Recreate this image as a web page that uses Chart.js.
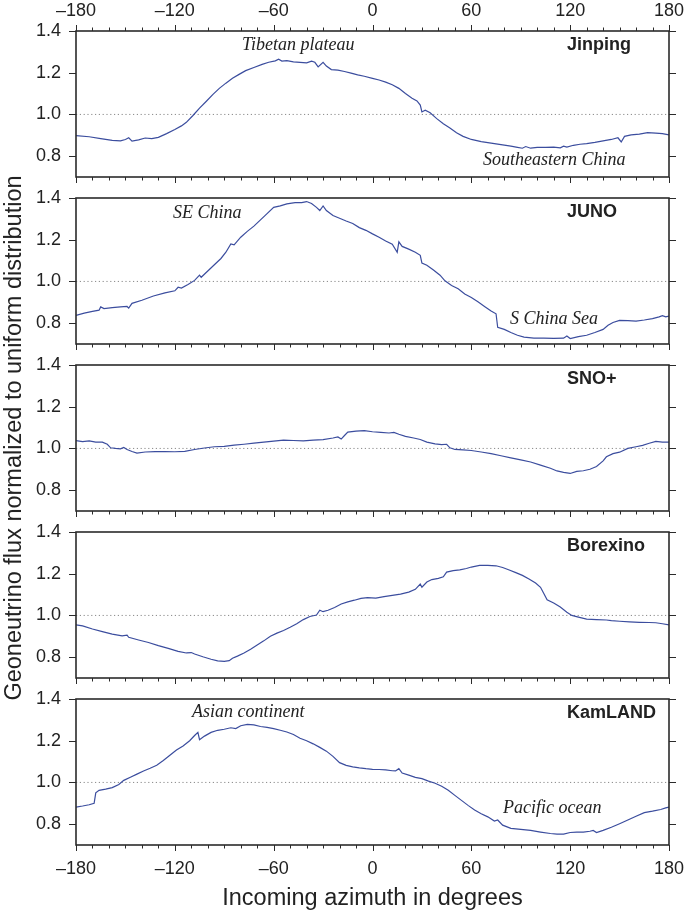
<!DOCTYPE html>
<html>
<head>
<meta charset="utf-8">
<script src="https://cdn.jsdelivr.net/npm/chart.js@4.4.1/dist/chart.umd.min.js"></script>
<style>
  body { margin: 0; background: #fff; }
  #wrap { position: relative; width: 685px; height: 912px; overflow: hidden; font-family: "Liberation Sans", Arial, sans-serif; color: #222; }
  canvas { position: absolute; left: 0; top: 0; pointer-events: none; }
  .site { position: absolute; font-weight: bold; font-size: 18px; line-height: 18px; white-space: nowrap; }
  .note { position: absolute; font-family: "Liberation Serif", "Times New Roman", serif; font-style: italic; font-size: 18px; line-height: 18px; white-space: nowrap; }
  #xtitle { position: absolute; left: 76px; width: 593px; top: 884px; text-align: center; font-size: 23.5px; line-height: 26px; }
  #ytitle { position: absolute; left: -287px; top: 425px; width: 600px; text-align: center; font-size: 23.5px; line-height: 26px; transform: rotate(-90deg); }
</style>
</head>
<body>
<div id="wrap">
  <canvas id="c0" width="685" height="912"></canvas>
  <canvas id="c1" width="685" height="912"></canvas>
  <canvas id="c2" width="685" height="912"></canvas>
  <canvas id="c3" width="685" height="912"></canvas>
  <canvas id="c4" width="685" height="912"></canvas>

  <div class="site" style="left:567px; top:35px;">Jinping</div>
  <div class="site" style="left:567px; top:202px;">JUNO</div>
  <div class="site" style="left:567px; top:369px;">SNO+</div>
  <div class="site" style="left:567px; top:536px;">Borexino</div>
  <div class="site" style="left:567px; top:703px;">KamLAND</div>

  <div class="note" style="left:242px; top:35px;">Tibetan plateau</div>
  <div class="note" style="left:483px; top:150px;">Southeastern China</div>
  <div class="note" style="left:173px; top:203px;">SE China</div>
  <div class="note" style="left:510px; top:309px;">S China Sea</div>
  <div class="note" style="left:192px; top:702px;">Asian continent</div>
  <div class="note" style="left:503px; top:798px;">Pacific ocean</div>

  <div id="ytitle">Geoneutrino flux normalized to uniform distribution</div>
  <div id="xtitle">Incoming azimuth in degrees</div>
</div>

<script>
// tick values
const azTicks = [-180, -120, -60, 0, 60, 120, 180];
const fluxTicks = [0.8, 1.0, 1.2, 1.4];

// Jinping
const jinpingAz = [-180, -172, -165, -158, -153, -150, -148, -146, -142, -138, -134, -130, -125, -120, -116, -113, -109, -105, -101, -97, -93, -89, -85, -81, -77, -72, -67, -63, -59, -57, -55, -52, -48, -44, -40, -37, -35, -33, -30, -28, -25, -21, -17, -13, -9, -5, 0, 4, 8, 12, 16, 20, 24, 27, 29, 30, 32, 35, 39, 43, 47, 51, 55, 60, 66, 72, 78, 84, 88, 91, 93, 96, 100, 105, 110, 114, 116, 118, 122, 126, 130, 135, 140, 145, 149, 151, 153, 157, 162, 167, 172, 176, 180];
const jinpingFlux = [0.898, 0.893, 0.884, 0.876, 0.873, 0.880, 0.888, 0.872, 0.878, 0.887, 0.884, 0.890, 0.908, 0.928, 0.945, 0.962, 0.995, 1.030, 1.062, 1.095, 1.125, 1.150, 1.173, 1.192, 1.210, 1.225, 1.240, 1.250, 1.257, 1.265, 1.256, 1.258, 1.252, 1.250, 1.247, 1.255, 1.250, 1.228, 1.250, 1.232, 1.215, 1.212, 1.206, 1.198, 1.190, 1.183, 1.173, 1.165, 1.155, 1.142, 1.125, 1.100, 1.078, 1.065, 1.045, 1.012, 1.020, 1.008, 0.980, 0.955, 0.935, 0.912, 0.895, 0.880, 0.870, 0.862, 0.855, 0.848, 0.842, 0.838, 0.846, 0.838, 0.842, 0.842, 0.843, 0.840, 0.848, 0.843, 0.852, 0.857, 0.860, 0.866, 0.873, 0.880, 0.888, 0.868, 0.895, 0.902, 0.906, 0.913, 0.910, 0.908, 0.902];

// JUNO
const junoAz = [-180, -175, -170, -166, -165, -163, -158, -153, -149, -148, -146, -140, -133, -126, -120, -118, -116, -112, -108, -105, -104, -100, -96, -92, -89, -86, -84, -80, -76, -72, -68, -64, -60, -56, -52, -47, -43, -40, -37, -34, -32, -30, -28, -24, -20, -16, -12, -8, -4, 0, 4, 8, 12, 15, 16, 18, 22, 26, 29, 30, 33, 37, 41, 44, 48, 52, 56, 60, 64, 68, 72, 75, 76, 80, 84, 88, 92, 98, 104, 110, 116, 118, 120, 125, 130, 135, 140, 143, 146, 150, 155, 160, 165, 170, 174, 176, 178, 180];
const junoFlux = [0.837, 0.848, 0.856, 0.862, 0.878, 0.870, 0.874, 0.878, 0.880, 0.872, 0.895, 0.910, 0.930, 0.945, 0.955, 0.972, 0.968, 0.985, 1.005, 1.030, 1.020, 1.050, 1.080, 1.110, 1.140, 1.180, 1.175, 1.212, 1.240, 1.265, 1.295, 1.325, 1.355, 1.362, 1.372, 1.378, 1.378, 1.383, 1.374, 1.355, 1.340, 1.362, 1.340, 1.316, 1.303, 1.290, 1.278, 1.258, 1.245, 1.228, 1.212, 1.194, 1.178, 1.140, 1.190, 1.168, 1.155, 1.140, 1.125, 1.088, 1.078, 1.055, 1.030, 1.003, 0.980, 0.965, 0.940, 0.923, 0.902, 0.880, 0.858, 0.845, 0.780, 0.770, 0.755, 0.742, 0.733, 0.728, 0.728, 0.727, 0.728, 0.738, 0.726, 0.735, 0.742, 0.755, 0.770, 0.790, 0.803, 0.813, 0.812, 0.810, 0.815, 0.822, 0.830, 0.836, 0.830, 0.834];

// SNO+
const snoAz = [-180, -176, -172, -168, -164, -161, -159, -156, -153, -151, -149, -146, -143, -138, -132, -126, -120, -114, -108, -102, -96, -90, -84, -78, -72, -66, -60, -54, -48, -42, -36, -30, -24, -21, -19, -17, -15, -10, -5, 0, 5, 10, 13, 16, 20, 25, 29, 33, 38, 42, 45, 47, 50, 55, 60, 66, 72, 78, 84, 90, 96, 102, 108, 112, 116, 120, 124, 128, 132, 136, 140, 142, 146, 150, 155, 160, 164, 168, 172, 176, 180];
const snoFlux = [1.037, 1.033, 1.036, 1.030, 1.030, 1.020, 1.003, 1.000, 0.998, 1.005, 0.995, 0.985, 0.978, 0.983, 0.985, 0.985, 0.984, 0.986, 0.995, 1.002, 1.008, 1.010, 1.016, 1.020, 1.025, 1.030, 1.035, 1.040, 1.038, 1.036, 1.040, 1.042, 1.050, 1.055, 1.045, 1.062, 1.078, 1.083, 1.085, 1.080, 1.077, 1.074, 1.077, 1.068, 1.058, 1.050, 1.043, 1.030, 1.022, 1.018, 1.020, 1.003, 0.995, 0.993, 0.990, 0.983, 0.975, 0.965, 0.955, 0.945, 0.935, 0.920, 0.905, 0.892, 0.885, 0.880, 0.890, 0.893, 0.900, 0.913, 0.940, 0.960, 0.975, 0.982, 1.000, 1.008, 1.015, 1.025, 1.034, 1.030, 1.030];

// Borexino
const borexinoAz = [-180, -176, -170, -164, -158, -152, -149, -148, -142, -136, -130, -124, -118, -113, -110, -108, -103, -98, -94, -90, -87, -85, -82, -78, -74, -70, -66, -62, -58, -54, -50, -46, -42, -38, -34, -32, -30, -27, -23, -19, -15, -11, -7, -3, 2, 7, 12, 17, 22, 26, 29, 30, 33, 36, 40, 43, 45, 49, 53, 57, 60, 65, 70, 75, 79, 83, 87, 91, 95, 99, 102, 104, 106, 110, 114, 118, 121, 125, 130, 136, 142, 145, 150, 156, 162, 168, 172, 176, 180];
const borexinoFlux = [0.955, 0.950, 0.935, 0.922, 0.910, 0.902, 0.905, 0.895, 0.882, 0.870, 0.855, 0.842, 0.828, 0.820, 0.822, 0.815, 0.802, 0.790, 0.782, 0.780, 0.783, 0.795, 0.805, 0.820, 0.838, 0.858, 0.878, 0.900, 0.915, 0.928, 0.943, 0.960, 0.980, 0.995, 1.002, 1.025, 1.018, 1.025, 1.038, 1.055, 1.065, 1.073, 1.082, 1.085, 1.083, 1.090, 1.096, 1.102, 1.112, 1.125, 1.150, 1.135, 1.160, 1.172, 1.178, 1.185, 1.208, 1.215, 1.218, 1.225, 1.232, 1.240, 1.240, 1.238, 1.230, 1.218, 1.205, 1.192, 1.175, 1.155, 1.135, 1.105, 1.075, 1.060, 1.040, 1.015, 1.000, 0.992, 0.982, 0.980, 0.978, 0.975, 0.972, 0.969, 0.967, 0.966, 0.965, 0.960, 0.955];

// KamLAND
const kamlandAz = [-180, -176, -172, -169, -168, -166, -162, -158, -154, -151, -147, -143, -139, -135, -131, -127, -123, -119, -115, -111, -108, -106, -105, -102, -98, -94, -90, -86, -83, -80, -76, -72, -68, -64, -60, -56, -52, -48, -44, -40, -36, -32, -28, -24, -20, -16, -12, -8, -4, 0, 4, 8, 12, 14, 16, 18, 22, 26, 30, 34, 38, 42, 46, 50, 54, 58, 62, 66, 70, 74, 76, 79, 84, 90, 96, 102, 108, 112, 116, 120, 124, 128, 132, 134, 136, 140, 145, 150, 155, 160, 165, 170, 175, 178, 180];
const kamlandFlux = [0.882, 0.887, 0.893, 0.900, 0.950, 0.962, 0.968, 0.975, 0.990, 1.010, 1.025, 1.040, 1.055, 1.068, 1.082, 1.105, 1.130, 1.155, 1.175, 1.200, 1.225, 1.240, 1.205, 1.222, 1.240, 1.250, 1.255, 1.262, 1.258, 1.272, 1.278, 1.276, 1.268, 1.264, 1.258, 1.250, 1.242, 1.230, 1.212, 1.200, 1.185, 1.168, 1.150, 1.125, 1.095, 1.082, 1.075, 1.070, 1.066, 1.063, 1.062, 1.060, 1.056, 1.055, 1.066, 1.045, 1.035, 1.024, 1.018, 1.006, 0.996, 0.982, 0.962, 0.938, 0.914, 0.890, 0.868, 0.850, 0.835, 0.815, 0.820, 0.795, 0.780, 0.775, 0.770, 0.762, 0.755, 0.752, 0.752, 0.760, 0.762, 0.762, 0.766, 0.770, 0.760, 0.770, 0.785, 0.802, 0.820, 0.838, 0.855, 0.862, 0.870, 0.878, 0.882];

const series = [
  [jinpingAz, jinpingFlux],
  [junoAz, junoFlux],
  [snoAz, snoFlux],
  [borexinoAz, borexinoFlux],
  [kamlandAz, kamlandFlux],
];

const panelTops = [31, 198, 365, 532, 699];
const panelH = 146;
const lineColor = "#3b4d9e";
const inkColor = "#2b2b2b";
const tickFont = { family: "'Liberation Sans', Arial, sans-serif", size: 18 };

function azLabel(v) {
  return v < 0 ? "\u2013" + Math.abs(v) : String(v);
}

// don't let edge labels push the plot area in
function noEdgePad(s) {
  s.paddingLeft = 0;
  s.paddingRight = 0;
  s.paddingTop = 0;
  s.paddingBottom = 0;
}

// frame box plus the small outward tick marks
const frameTicks = {
  id: "frameTicks",
  afterDatasetsDraw(chart, args, opts) {
    const { ctx, chartArea, scales } = chart;
    const { left, right, top, bottom } = chartArea;
    ctx.save();
    ctx.strokeStyle = inkColor;
    ctx.lineWidth = 1;
    ctx.beginPath();
    for (let a = -180; a <= 180; a += 10) {
      const px = Math.round(scales.x.getPixelForValue(a)) + 0.5;
      const len = a % 60 === 0 ? 6 : 3.5;
      ctx.moveTo(px, bottom);
      ctx.lineTo(px, bottom + len);
      if (opts.top) {
        ctx.moveTo(px, top);
        ctx.lineTo(px, top - len);
      }
    }
    for (const v of fluxTicks) {
      const py = Math.round(scales.y.getPixelForValue(v)) + 0.5;
      ctx.moveTo(left - 7, py);
      ctx.lineTo(left, py);
      ctx.moveTo(right, py);
      ctx.lineTo(right + 7, py);
    }
    ctx.stroke();
    ctx.lineWidth = 1.6;
    ctx.strokeRect(left, top, right - left, bottom - top);
    ctx.restore();
  },
};

function makePanel(i) {
  const [az, flux] = series[i];
  const top = panelTops[i];
  const bottom = top + panelH;
  const first = i === 0;
  const last = i === series.length - 1;

  const scales = {
    x: {
      type: "linear",
      min: -180,
      max: 180,
      display: last,
      position: "bottom",
      afterBuildTicks: (s) => { s.ticks = azTicks.map((v) => ({ value: v })); },
      afterFit: (s) => { s.height = last ? 912 - bottom : 0; noEdgePad(s); },
      grid: { display: false, drawTicks: false },
      border: { display: false },
      ticks: { font: tickFont, color: "#222", padding: 13, maxRotation: 0, autoSkip: false, callback: azLabel },
    },
    y: {
      type: "linear",
      min: 0.7,
      max: 1.4,
      afterBuildTicks: (s) => { s.ticks = fluxTicks.map((v) => ({ value: v })); },
      afterFit: (s) => { s.width = 76; noEdgePad(s); },
      grid: { display: false, drawTicks: false },
      border: { display: false },
      ticks: { font: tickFont, color: "#222", padding: 15, callback: (v) => v.toFixed(1) },
    },
  };
  if (first) {
    scales.xTop = {
      type: "linear",
      min: -180,
      max: 180,
      position: "top",
      afterBuildTicks: (s) => { s.ticks = azTicks.map((v) => ({ value: v })); },
      afterFit: (s) => { s.height = top; noEdgePad(s); },
      grid: { display: false, drawTicks: false },
      border: { display: false },
      ticks: { font: tickFont, color: "#222", padding: 9, maxRotation: 0, autoSkip: false, callback: azLabel },
    };
  }

  return new Chart(document.getElementById("c" + i), {
    type: "line",
    data: {
      datasets: [
        {
          data: az.map((a, k) => ({ x: a, y: flux[k] })),
          borderColor: lineColor,
          borderWidth: 1.2,
          pointRadius: 0,
          tension: 0,
          order: 1,
        },
        {
          // uniform reference
          data: [{ x: -180, y: 1 }, { x: 180, y: 1 }],
          borderColor: "#8a8a8a",
          borderWidth: 1,
          borderDash: [1.2, 2.6],
          pointRadius: 0,
          order: 2,
        },
      ],
    },
    options: {
      responsive: false,
      animation: false,
      devicePixelRatio: 1,
      layout: {
        padding: {
          left: 0,
          right: 16,
          top: first ? 0 : top,
          bottom: last ? 0 : 912 - bottom,
        },
      },
      scales,
      plugins: {
        legend: { display: false },
        tooltip: { enabled: false },
        frameTicks: { top: first },
      },
    },
    plugins: [frameTicks],
  });
}

for (let i = 0; i < series.length; i++) makePanel(i);
</script>
</body>
</html>
